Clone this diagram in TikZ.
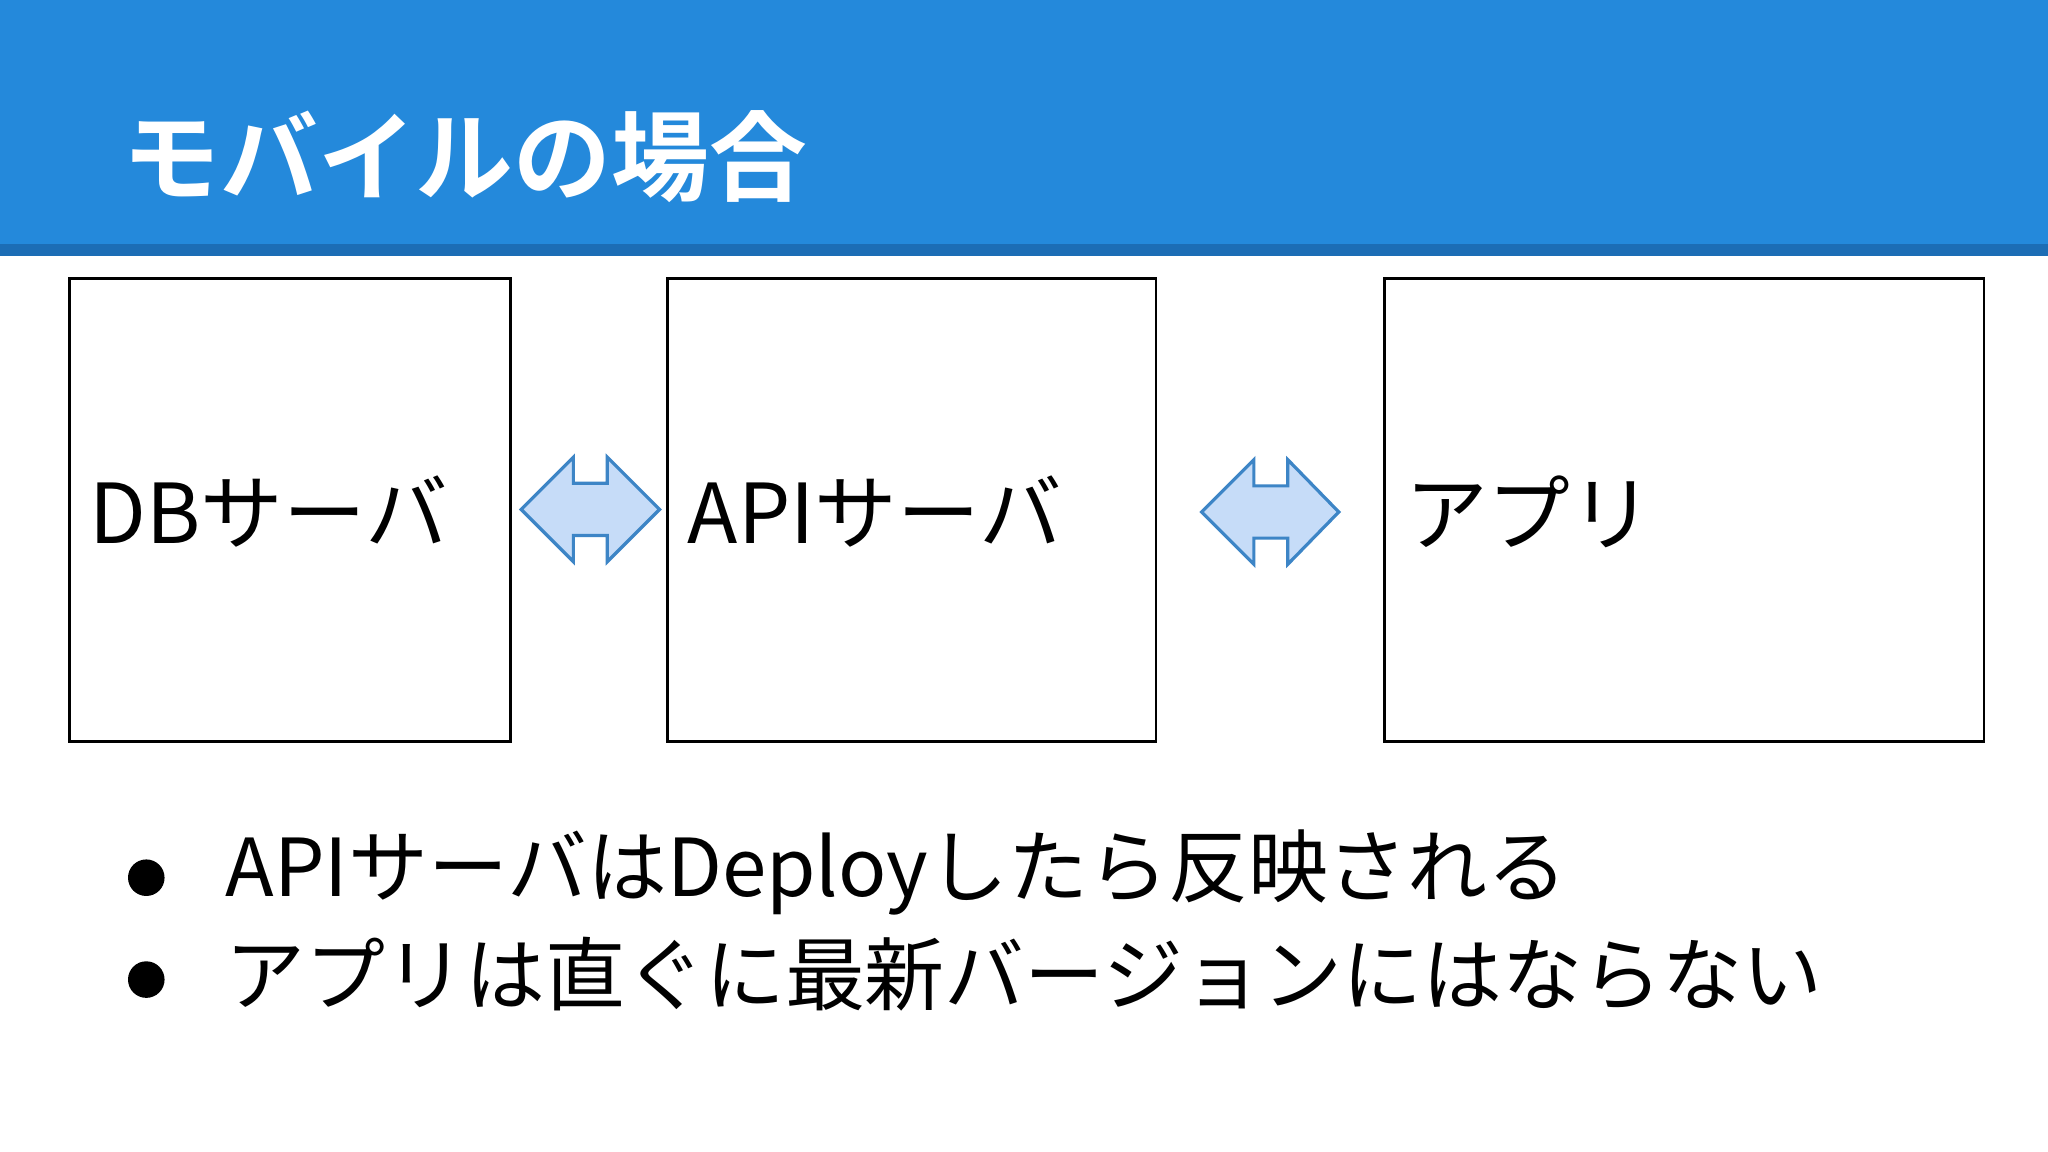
\documentclass[tikz,border=0pt]{standalone}
\usepackage{fontspec}
\setmainfont{Noto Sans CJK JP}
\newfontfamily\cjkb{Noto Sans CJK JP Bold}
\definecolor{hdr}{HTML}{2489DB}
\definecolor{hdrd}{HTML}{1C6DB5}
\definecolor{afill}{HTML}{C6DCF8}
\definecolor{aline}{HTML}{3D85C6}
\tikzset{box/.style={draw=black,line width=0.6pt},
 dbl/.style={fill=afill,draw=aline,line width=0.7pt},
 lbl/.style={anchor=west,inner sep=0pt,font=\fontsize{18}{20}\selectfont},
 bul/.style={anchor=west,inner sep=0pt,font=\fontsize{17.4}{20}\selectfont}}
\begin{document}
\begin{tikzpicture}[x=0.01cm,y=-0.01cm]
\useasboundingbox (0,0) rectangle (1568,882);
\fill[white] (0,0) rectangle (1568,882);
\fill[hdr] (0,0) rectangle (1568,189);
\fill[hdrd] (0,187) rectangle (1568,196);
\node[anchor=west,inner sep=0pt,text=white,font=\cjkb\fontsize{21.3}{24}\selectfont] (title) at (93,120) {モバイルの場合};
\draw[box] (53,213) rectangle (391,568);
\draw[box] (511,213) rectangle (885,568);
\draw[box] (1060,213) rectangle (1519,568);
\node[lbl] (db) at (68,392) {DBサーバ};
\node[lbl] (api) at (526,392) {APIサーバ};
\node[lbl] (app) at (1075,392) {アプリ};
\draw[dbl] (399,390)--(439,350)--(439,370)--(465,370)--(465,350)--(505,390)--(465,430)--(465,410)--(439,410)--(439,430)--cycle;
\draw[dbl] (920,392)--(960,352)--(960,372)--(986,372)--(986,352)--(1025,392)--(986,432)--(986,412)--(960,412)--(960,432)--cycle;
\fill[black] (112,672) circle (14);
\fill[black] (112,750) circle (14);
\node[bul] (b1) at (172,668) {APIサーバはDeployしたら反映される};
\node[bul] (b2) at (172,746) {アプリは直ぐに最新バージョンにはならない};
\end{tikzpicture}
\end{document}
